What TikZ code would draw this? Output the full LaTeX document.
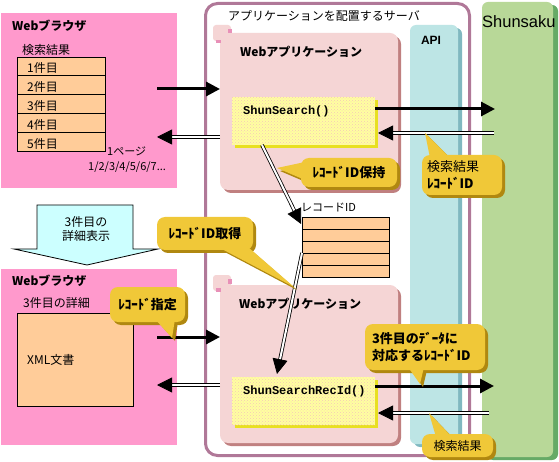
\documentclass[tikz,border=0pt]{standalone}
\usepackage{fontspec}
\setmainfont{Liberation Sans}
\newfontfamily\jp{Noto Sans CJK JP}
\newfontfamily\mono{Liberation Mono}
\usetikzlibrary{arrows.meta,shadows,calc,patterns}
\definecolor{bpink}{HTML}{FF99CC}
\definecolor{tblfill}{HTML}{FFCC99}
\definecolor{appfill}{HTML}{F5D5D5}
\definecolor{appshadow}{HTML}{C08080}
\definecolor{fnfill}{HTML}{FFFFA0}
\definecolor{fnshadow}{HTML}{E8E020}
\definecolor{fndot}{HTML}{F5C8B8}
\definecolor{apifill}{HTML}{BDE5E5}
\definecolor{apishadow}{HTML}{80B8C0}
\definecolor{shfill}{HTML}{B8D898}
\definecolor{shshadow}{HTML}{66AA66}
\definecolor{srvline}{HTML}{B07898}
\definecolor{calfill}{HTML}{F0C838}
\definecolor{calshadow}{HTML}{B08810}
\definecolor{bigarrow}{HTML}{CCFFFF}
\definecolor{tabdot}{HTML}{E890B8}
\begin{document}
\begin{tikzpicture}[x=1pt,y=-1pt,
  box/.style={rectangle, inner sep=0pt, outer sep=0pt, anchor=north west},
  jp/.style={font=\jp\fontsize{12}{14}\selectfont, inner sep=0pt},
  jpb/.style={font=\jp\bfseries\fontsize{12}{14}\selectfont, inner sep=0pt},
  jps/.style={font=\jp\fontsize{11}{13}\selectfont, inner sep=0pt},
  fnlabel/.style={font=\mono\bfseries\fontsize{12}{14}\selectfont, inner sep=0pt, anchor=west},
  appbox/.style={box, fill=appfill, rounded corners=8pt, minimum width=178pt,
    general shadow={shadow xshift=3pt, shadow yshift=-3pt, fill=appshadow}},
  tabbox/.style={box, fill=appfill, rounded corners=3pt, minimum width=18pt, minimum height=16pt},
  fnbox/.style={box, fill=fnfill, minimum width=143pt, minimum height=48pt,
    postaction={pattern=crosshatch dots, pattern color=fndot},
    general shadow={shadow xshift=3pt, shadow yshift=-3pt, fill=fnshadow}},
  rowbox/.style={box, fill=tblfill, draw=black, line width=0.8pt},
  thickarrow/.style={line width=3pt, -{Triangle[length=14pt,width=14pt]}},
  dblarrow/.style={double, double distance=2pt, line width=0.8pt, -{Triangle[length=15pt,width=15pt]}},
  callbox/.style={rectangle, fill=calfill, rounded corners=8pt, inner sep=0pt, outer sep=0pt,
    general shadow={shadow xshift=3pt, shadow yshift=-3pt, fill=calshadow},
    font=\jp\bfseries\fontsize{13}{17}\selectfont},
  tailfill/.style={fill=calfill},
  tailshadow/.style={fill=calshadow, shift={(3,3)}}
]
\useasboundingbox (0,0) rectangle (559,462);

% ---- server frame
\node[box, draw=srvline, line width=3pt, fill=white, rounded corners=12pt,
  minimum width=264pt, minimum height=452pt] (srv) at (205.5,3.5) {};
\node[jp, anchor=west] (srvt) at (228,16) {アプリケーションを配置するサーバ};

% ---- API column
\node[box, fill=apifill, rounded corners=6pt, minimum width=48pt, minimum height=419pt,
  general shadow={shadow xshift=4pt, shadow yshift=-3pt, fill=apishadow}] (api) at (410,25) {};
\node[font=\bfseries\fontsize{12}{14}\selectfont, inner sep=0pt] (apit) at (431,40) {API};

% ---- Shunsaku column
\node[box, fill=shfill, rounded corners=6pt, minimum width=71pt, minimum height=455pt,
  general shadow={shadow xshift=5pt, shadow yshift=-3pt, fill=shshadow}] (shun) at (482,2) {};
\node[font=\fontsize{16.5}{18}\selectfont, inner sep=0pt, anchor=west] (shunt) at (482,22) {Shunsaku};

% ---- Web application 1
\node[tabbox] (tab1) at (213,25) {};
\node[appbox, minimum height=157pt] (app1) at (220,33) {};
\fill[tabdot] (228,29) rectangle (232,33);
\fill[tabdot] (216,40) rectangle (221,43);
\node[jpb, anchor=west] (app1t) at (240,52) {Webアプリケーション};
\node[fnbox] (fn1) at (232,97) {};
\node[fnlabel] (fn1t) at (243,111) {ShunSearch()};

% ---- Web application 2
\node[tabbox] (tab2) at (213,275) {};
\node[appbox, minimum height=158pt] (app2) at (220,285) {};
\fill[tabdot] (228,279) rectangle (232,284);
\fill[tabdot] (216,288) rectangle (221,292);
\node[jpb, anchor=west] (app2t) at (239,304) {Webアプリケーション};
\node[fnbox] (fn2) at (232,377) {};
\node[fnlabel] (fn2t) at (243,391) {ShunSearchRecId()};

% ---- record ID table
\node[jps, anchor=west] (rlab) at (301,208) {レコードID};
\foreach \i in {1,...,5} {
  \node[rowbox, minimum width=87pt, minimum height=12pt] (rt\i) at (302,{217+12*(\i-1)}) {};
}

% ---- Browser 1
\node[box, fill=bpink, minimum width=176pt, minimum height=175pt] (br1) at (1,13) {};
\node[jpb, anchor=west] (br1t) at (12,26) {Webブラウザ};
\node[jp, anchor=west] (res) at (22,50) {検索結果};
\foreach \i in {1,...,5} {
  \node[rowbox, minimum width=88pt, minimum height=18.8pt] (r\i) at (17,{57+18.8*(\i-1)}) {};
  \node[jp, anchor=west] (r\i t) at ([xshift=10pt,yshift=-2pt]r\i.west) {\i 件目};
}
\node[jps, anchor=west] (page) at (107,151) {1ページ};
\node[jps, anchor=west] (pages) at (88,167) {1/2/3/4/5/6/7...};

% ---- big arrow
\draw[fill=bigarrow, line width=0.8pt] (37,205) -- (133,205) -- (133,249) -- (158,249)
  -- (87,265) -- (14,249) -- (37,249) -- cycle;
\node[jp, align=center] (bigt) at (86,229) {3件目の\\詳細表示};

% ---- Browser 2
\node[box, fill=bpink, minimum width=176pt, minimum height=176pt] (br2) at (1,269) {};
\node[jpb, anchor=west] (br2t) at (12,281) {Webブラウザ};
\node[jp, anchor=west] (det) at (23,303) {3件目の詳細};
\node[box, fill=tblfill, draw=black, line width=0.8pt, minimum width=116pt, minimum height=93pt] (xml) at (17,313) {};
\node[jp, anchor=west] (xmlt) at (27,360) {XML文書};

% ---- connectors
\coordinate (b1o) at (157,89);
\coordinate (b1i) at (157,137);
\coordinate (s1) at (495,109);
\coordinate (s2) at (494,133);
\coordinate (b2o) at (157,337);
\coordinate (b2i) at (157,385);
\coordinate (s3) at (494,386);
\coordinate (s4) at (489,413);
\draw[thickarrow] (b1o) -- (b1o -| app1.west);
\draw[dblarrow] (b1i -| app1.west) -- (b1i);
\draw[thickarrow] (s1 -| fn1.east) -- (s1);
\draw[dblarrow] (s2) -- ($(s2 -| fn1.east)+(3,0)$);
\draw[thickarrow] (b2o) -- (b2o -| app2.west);
\draw[dblarrow] (b2i -| app2.west) -- (b2i);
\draw[thickarrow] (s3 -| fn2.east) -- (s3);
\draw[dblarrow] (s4) -- ($(s4 -| fn2.east)+(3,0)$);
\draw[dblarrow] ($(fn1.south west)+(30,0)$) -- ($(rt1.north west)+(-1,7)$);
\draw[dblarrow] (rt3.south west) -- ($(fn2.north west)+(45,-3)$);

% ---- callouts
% c1
\fill[tailshadow] (277,168) -- (305,162) -- (305,180) -- cycle;
\node[callbox, minimum width=96pt, minimum height=29pt] (c1) at (349,172.5) {ﾚｺｰﾄﾞID保持};
\fill[tailfill] (277,168) -- (305,162) -- (305,180) -- cycle;
% c2
\fill[tailshadow] (425,133) -- (430,158) -- (450,158) -- cycle;
\node[callbox, minimum width=80pt, minimum height=40pt, text width=70pt, align=left] (c2) at (462,175) {\mdseries 検索結果\\\bfseries ﾚｺｰﾄﾞID};
\fill[tailfill] (425,133) -- (430,158) -- (450,158) -- cycle;
% c3
\fill[tailshadow] (294,287) -- (218,247) -- (248,247) -- cycle;
\node[callbox, minimum width=96pt, minimum height=33pt] (c3) at (205,233.5) {ﾚｺｰﾄﾞID取得};
\fill[tailfill] (294,287) -- (218,247) -- (248,247) -- cycle;
% c4
\fill[tailshadow] (172,338) -- (155,319) -- (175,319) -- cycle;
\node[callbox, minimum width=75pt, minimum height=35pt] (c4) at (147.5,304.5) {ﾚｺｰﾄﾞ指定};
\fill[tailfill] (172,338) -- (155,319) -- (175,319) -- cycle;
% c5
\fill[tailshadow] (420,384) -- (408,367) -- (424,367) -- cycle;
\node[callbox, minimum width=120pt, minimum height=46pt, text width=106pt, align=left] (c5) at (425,347) {3件目のﾃﾞｰﾀに\\対応するﾚｺｰﾄﾞID};
\fill[tailfill] (420,384) -- (408,367) -- (424,367) -- cycle;
% c6
\fill[tailshadow] (429,413) -- (436,437) -- (452,437) -- cycle;
\node[callbox, minimum width=71pt, minimum height=23pt, font=\jp\fontsize{12}{14}\selectfont] (c6) at (457.5,445.5) {検索結果};
\fill[tailfill] (429,413) -- (436,437) -- (452,437) -- cycle;
\end{tikzpicture}
\end{document}
